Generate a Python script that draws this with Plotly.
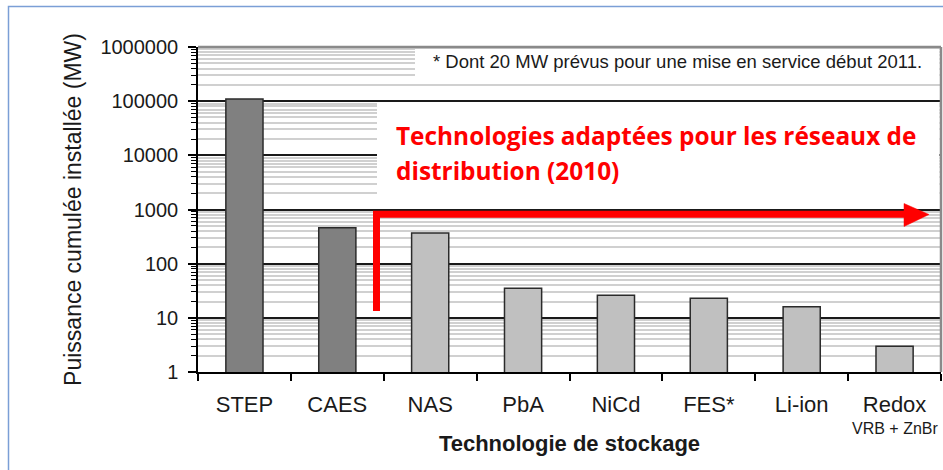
import plotly.graph_objects as go

# Installed storage power by technology (MW), log scale
categories = ["STEP", "CAES", "NAS", "PbA", "NiCd", "FES*", "Li-ion", "Redox"]
puissance_mw = [110000, 460, 370, 35, 26, 23, 16, 3]
bar_colors = ["#808080", "#808080", "#c0c0c0", "#c0c0c0", "#c0c0c0", "#c0c0c0", "#c0c0c0", "#c0c0c0"]
y_tickvals = [1, 10, 100, 1000, 10000, 100000, 1000000]
y_ticktext = ["1", "10", "100", "1000", "10000", "100000", "1000000"]

W, H = 943, 470
L, R, T, B = 198, 2, 47, 98
FONT = "Liberation Sans, Arial, sans-serif"


def px_x(px):
    """Pixel column -> paper x coordinate."""
    return (px - L) / (W - L - R)


def px_y(py):
    """Pixel row -> paper y coordinate."""
    return (H - B - py) / (H - T - B)


fig = go.Figure(
    go.Bar(
        x=categories,
        y=puissance_mw,
        width=0.4,
        marker=dict(color=bar_colors, line=dict(color="#2b2b2b", width=1.5)),
        hoverinfo="x+y",
    )
)

fig.update_yaxes(
    type="log",
    range=[0, 6],
    tickmode="array",
    tickvals=y_tickvals,
    ticktext=y_ticktext,
    showgrid=True,
    gridcolor="#1a1a1a",
    gridwidth=1.5,
    ticks="outside",
    ticklen=8,
    tickwidth=2,
    tickcolor="black",
    showline=True,
    linecolor="black",
    linewidth=1.5,
    zeroline=False,
    ticklabelstandoff=6,
    minor=dict(
        dtick="D1",
        ticks="outside",
        ticklen=5,
        tickwidth=1.2,
        tickcolor="black",
        showgrid=True,
        gridcolor="#d0d0d0",
        gridwidth=2,
    ),
    tickfont=dict(family=FONT, size=20, color="#1a1a1a"),
    title=dict(
        text="Puissance cumulée installée (MW)",
        font=dict(family=FONT, size=23, color="#1a1a1a"),
        standoff=12,
    ),
)

fig.update_xaxes(
    type="category",
    range=[-0.5, 7.5],
    showgrid=False,
    ticks="outside",
    tickson="boundaries",
    ticklen=7,
    tickwidth=1.5,
    tickcolor="black",
    showline=True,
    linecolor="black",
    linewidth=1.5,
    ticklabelstandoff=12,
    tickfont=dict(family=FONT, size=22, color="#1a1a1a"),
    title=dict(
        text="<b>Technologie de stockage</b>",
        font=dict(family=FONT, size=22, color="#1a1a1a"),
        standoff=19,
    ),
)

shapes = [
    # outer light-blue frame
    dict(type="rect", xref="paper", yref="paper",
         x0=px_x(8.5), x1=px_x(990), y0=px_y(520), y1=px_y(6.5),
         line=dict(color="#7b9fd6", width=1.5), layer="below"),
    # white panel behind the footnote
    dict(type="rect", xref="paper", yref="paper",
         x0=px_x(415), x1=px_x(939.5), y0=px_y(80.5), y1=px_y(49),
         fillcolor="white", line=dict(width=0), layer="above"),
    # white panel behind the red caption
    dict(type="rect", xref="paper", yref="paper",
         x0=px_x(377), x1=px_x(939.5), y0=px_y(207), y1=px_y(102.5),
         fillcolor="white", line=dict(width=0), layer="above"),
    # grey top and right border of the plot area
    dict(type="line", xref="paper", yref="paper", x0=0, x1=1, y0=1, y1=1,
         line=dict(color="#8a8a8a", width=2.5), layer="above"),
    dict(type="line", xref="paper", yref="paper", x0=1, x1=1, y0=0, y1=1,
         line=dict(color="#8a8a8a", width=2.5), layer="above"),
    # red bracket arrow
    dict(type="path", xref="paper", yref="paper",
         path=f"M {px_x(376.5)},{px_y(311)} L {px_x(376.5)},{px_y(214.3)} L {px_x(906)},{px_y(214.3)}",
         line=dict(color="#ff0000", width=7), layer="above"),
    dict(type="path", xref="paper", yref="paper",
         path=f"M {px_x(904)},{px_y(203.5)} L {px_x(929)},{px_y(214.5)} L {px_x(904)},{px_y(226.5)} Z",
         fillcolor="#ff0000", line=dict(color="#ff0000", width=0.5), layer="above"),
]

annotations = [
    dict(text="* Dont 20 MW prévus pour une mise en service début 2011.",
         xref="paper", yref="paper", x=px_x(431), y=px_y(62),
         xanchor="left", yanchor="middle", showarrow=False,
         font=dict(family=FONT, size=18.5, color="#1a1a1a")),
    dict(text="<b>Technologies adaptées pour les réseaux de</b>",
         xref="paper", yref="paper", x=px_x(394), y=px_y(135),
         xanchor="left", yanchor="middle", showarrow=False,
         font=dict(family="Open Sans, sans-serif", size=24.4, color="#ff0000")),
    dict(text="<b>distribution (2010)</b>",
         xref="paper", yref="paper", x=px_x(394), y=px_y(170),
         xanchor="left", yanchor="middle", showarrow=False,
         font=dict(family="Open Sans, sans-serif", size=24.4, color="#ff0000")),
    dict(text="VRB + ZnBr",
         xref="x", yref="paper", x="Redox", y=px_y(428),
         xanchor="center", yanchor="middle", showarrow=False,
         font=dict(family=FONT, size=16, color="#1a1a1a")),
]

fig.update_layout(
    width=W,
    height=H,
    margin=dict(l=L, r=R, t=T, b=B),
    paper_bgcolor="white",
    plot_bgcolor="white",
    showlegend=False,
    bargap=0.6,
    shapes=shapes,
    annotations=annotations,
)

fig.write_html("out.html")
